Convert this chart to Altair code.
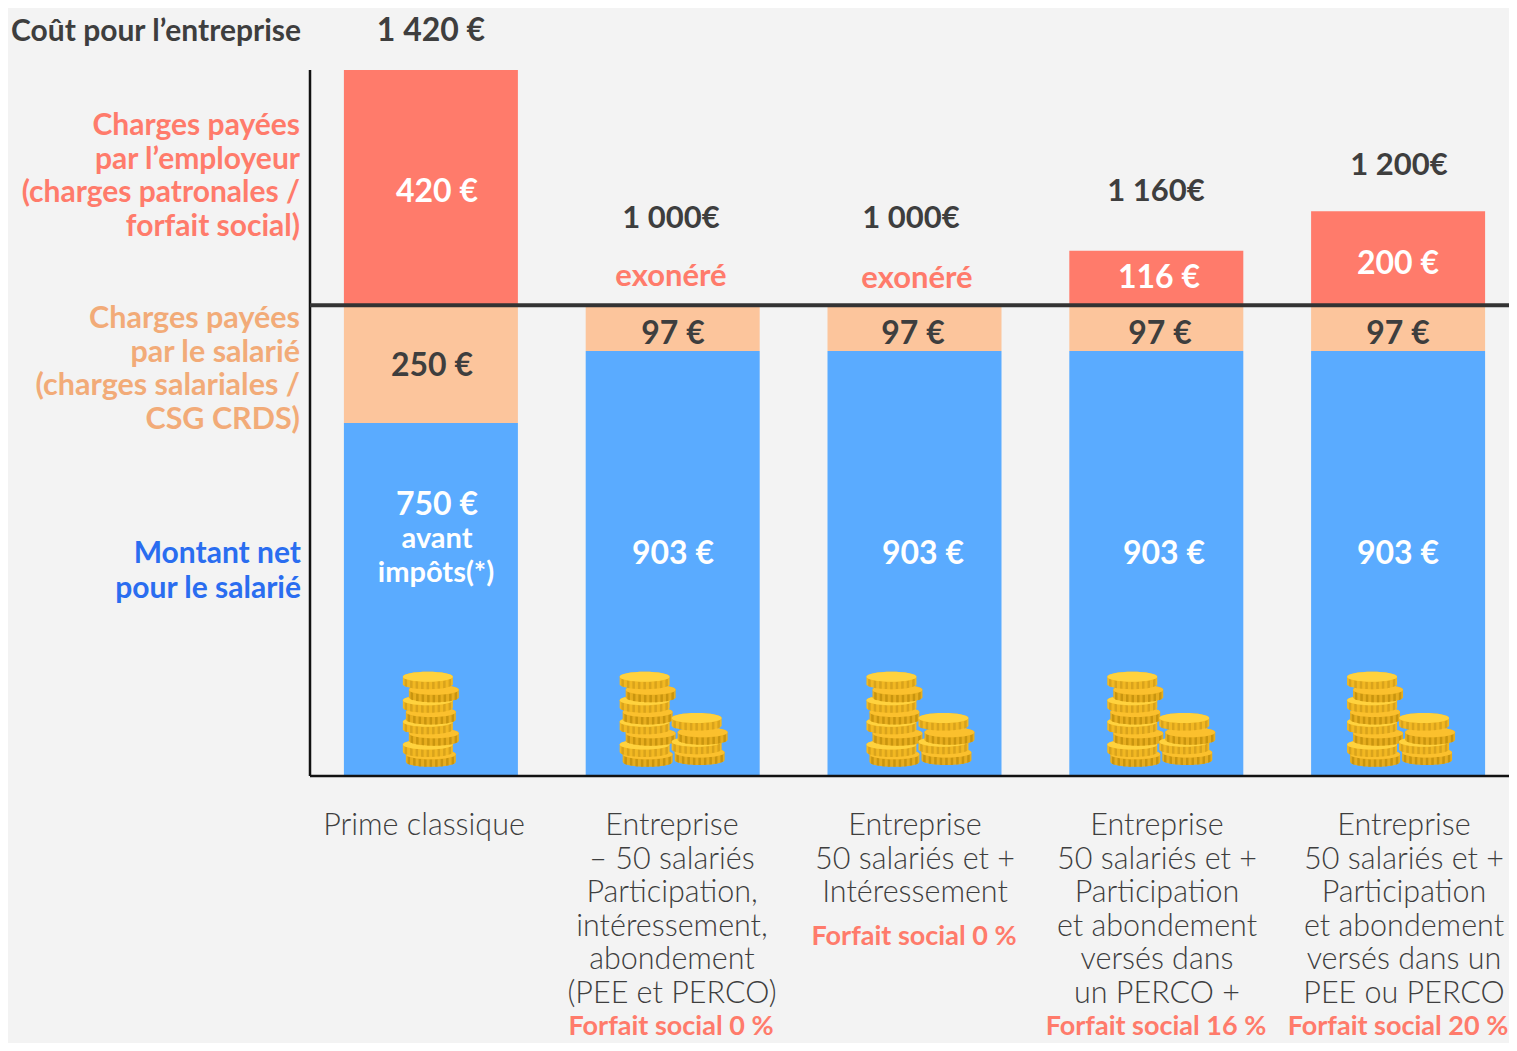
import math
import altair as alt
import pandas as pd

categories = ["Prime classique", "PME participation", "50+ intéressement", "50+ PERCO", "50+ PEE ou PERCO"]
# segment heights as drawn on the picture's vertical scale
net_values = [750, 903, 903, 903, 903]
employee_values = [250, 97, 97, 97, 97]
employer_values = [500, 0, 0, 116, 200]
segment_names = ["net", "salarie", "employeur"]
segment_colors = ["#5aabff", "#fcc59c", "#ff7b6b"]

pile_left_offsets = [-3, -28, -23, -24, -26]
tall_pile_heights = [46, 67, 91, 115, 136, 161, 183, 211]
tall_pile_shift = [3, 0, 6, 0, 3, 0, 6, 0]
short_pile_heights = [50, 73, 93, 123]
short_pile_shift = [55, 52, 58, 52]

DARK = "#3e3e3e"
SALMON = "#ff7b6b"
PEACH = "#f2ab78"
BLUE = "#2a6df0"
WHITE = "#ffffff"
FONT = "Lato"

bars_df = pd.DataFrame(
    [
        {"cat": c, "segment": s, "order": k, "value": v}
        for k, (s, vals) in enumerate(zip(segment_names, [net_values, employee_values, employer_values]))
        for c, v in zip(categories, vals)
    ]
)

x_scale = alt.Scale(domain=categories, range=[0, 1209], paddingInner=0.28, paddingOuter=0.14)
y_scale = alt.Scale(domain=[0, 1500], nice=False)

bars = (
    alt.Chart(bars_df)
    .mark_bar(size=174)
    .encode(
        x=alt.X("cat:N", scale=x_scale, sort=categories, axis=None),
        y=alt.Y("value:Q", scale=y_scale, stack="zero", axis=None),
        color=alt.Color("segment:N", scale=alt.Scale(domain=segment_names, range=segment_colors), legend=None),
        order=alt.Order("order:Q"),
    )
)

# Coin shapes: unit path scaled by sqrt(size)/2
RY, TH = 0.2, 0.3


def stripes(xs, w=0.05):
    parts = []
    for sx in xs:
        a, b = sx - w, sx + w
        ya = RY * math.sqrt(max(0, 1 - a * a))
        yb = RY * math.sqrt(max(0, 1 - b * b))
        parts.append(f"M{a:.3f},{ya:.3f}L{b:.3f},{yb:.3f}L{b:.3f},{yb + TH:.3f}L{a:.3f},{ya + TH:.3f}Z")
    return "".join(parts)


body_path = f"M-1,0L-1,{TH}A1,{RY} 0 0 0 1,{TH}L1,0A1,{RY} 0 0 0 -1,0Z"
top_path = f"M-1,0A1,{RY} 0 0 1 1,0A1,{RY} 0 0 1 -1,0Z"
stripe_path = stripes([-0.88, -0.66, -0.44, -0.22, 0, 0.22, 0.44, 0.66, 0.88])
part_names = ["body", "stripe", "top"]

coin_rows = []
for i, c in enumerate(categories):
    piles = [(tall_pile_heights, tall_pile_shift)]
    if i > 0:
        piles.append((short_pile_heights, short_pile_shift))
    for heights, shifts in piles:
        for j, (h, sh) in enumerate(zip(heights, shifts)):
            tone = "a" if sh in (0, 52) else "b"
            for p in part_names:
                coin_rows.append(
                    {"cat": c, "y": h, "off": pile_left_offsets[i] + sh, "part": p, "paint": p + tone}
                )
coins_df = pd.DataFrame(coin_rows)
coins_df["idx"] = range(len(coins_df))

paint_domain = ["bodya", "stripea", "topa", "bodyb", "stripeb", "topb"]
paint_range = ["#f2b822", "#d9a31c", "#ffd23e", "#e8ae1e", "#c9950f", "#fbc02d"]

coins = (
    alt.Chart(coins_df)
    .mark_point(filled=True, opacity=1, strokeWidth=0)
    .encode(
        x=alt.X("cat:N", scale=x_scale, sort=categories, axis=None),
        xOffset=alt.XOffset("off:Q", scale=alt.Scale(domain=[-120, 120], range=[-33, 207])),
        y=alt.Y("y:Q", scale=y_scale, axis=None),
        shape=alt.Shape(
            "part:N",
            scale=alt.Scale(domain=part_names, range=[body_path, stripe_path, top_path]),
            legend=None,
        ),
        fill=alt.Fill("paint:N", scale=alt.Scale(domain=paint_domain, range=paint_range), legend=None),
        size=alt.value(2500),
        order=alt.Order("idx:Q"),
    )
)

X0, Y0 = 310, 70
base_df = pd.DataFrame({"y": [0]})
divider_df = pd.DataFrame({"y": [1000]})

axis_v = alt.Chart(base_df).mark_rule(color="#111111", strokeWidth=2.5).encode(
    x=alt.value(0), y=alt.value(0), y2=alt.value(706))
axis_h = alt.Chart(base_df).mark_rule(color="#111111", strokeWidth=2.5).encode(
    y=alt.Y("y:Q", scale=y_scale, axis=None), x=alt.value(0), x2=alt.value(1199))
divider = alt.Chart(divider_df).mark_rule(color="#333333", strokeWidth=4).encode(
    y=alt.Y("y:Q", scale=y_scale, axis=None), x=alt.value(0), x2=alt.value(1199))


def note(text, x, y, color=DARK, size=30.5, weight="normal", align="center", lh=33.6):
    lines = text if isinstance(text, list) else [text]
    return alt.Chart(base_df).mark_text(
        text=lines if len(lines) > 1 else lines[0],
        color=color, fontSize=size, fontWeight=weight, font=FONT, align=align,
        baseline="middle", lineHeight=lh,
    ).encode(x=alt.value(x - X0), y=alt.value(y + 2 - Y0))


notes = [
    note("Coût pour l’entreprise", 301, 30, size=30, weight="bold", align="right"),
    note("1 420 €", 431, 29, size=32, weight="bold"),
    note(["Charges payées", "par l’employeur", "(charges patronales /", "forfait social)"], 300, 124, SALMON, 30, "bold", "right"),
    note(["Charges payées", "par le salarié", "(charges salariales /", "CSG CRDS)"], 300, 317, PEACH, 30.5, "bold", "right"),
    note(["Montant net", "pour le salarié"], 301, 552, BLUE, 30, "bold", "right", 35),
    note("420 €", 437, 190, WHITE, 32, "bold"),
    note("250 €", 432, 364, DARK, 32, "bold"),
    note("750 €", 437, 503, WHITE, 32, "bold"),
    note("avant", 437, 537, WHITE, 29, "bold"),
    note("impôts(*)", 436, 571, WHITE, 29, "bold"),
    note("1 000€", 671, 217, size=31, weight="bold"),
    note("1 000€", 911, 217, size=31, weight="bold"),
    note("1 160€", 1156, 190, size=31, weight="bold"),
    note("1 200€", 1399, 164, size=31, weight="bold"),
    note("exonéré", 671, 275, SALMON, 31, "bold"),
    note("exonéré", 917, 277, SALMON, 31, "bold"),
    note("116 €", 1159, 276, WHITE, 32, "bold"),
    note("200 €", 1398, 262, WHITE, 32, "bold"),
]
for x, y in [(673, 332), (913, 332), (1160, 332), (1398, 332)]:
    notes.append(note("97 €", x, y, DARK, 32, "bold"))
for x in [673, 923, 1164, 1398]:
    notes.append(note("903 €", x, 552, WHITE, 32, "bold"))

notes += [
    note("Prime classique", 424, 824, weight=300),
    note(["Entreprise", "– 50 salariés", "Participation,", "intéressement,", "abondement", "(PEE et PERCO)"], 672, 824, weight=300),
    note(["Entreprise", "50 salariés et +", "Intéressement"], 915, 824, weight=300),
    note(["Entreprise", "50 salariés et +", "Participation", "et abondement", "versés dans", "un PERCO +"], 1157, 824, weight=300),
    note(["Entreprise", "50 salariés et +", "Participation", "et abondement", "versés dans un", "PEE ou PERCO"], 1404, 824, weight=300),
]
forfait_labels = ["Forfait social 0 %", "Forfait social 0 %", "Forfait social 16 %", "Forfait social 20 %"]
for label, x, y in zip(forfait_labels, [671, 914, 1156, 1398], [1025, 935, 1025, 1025]):
    notes.append(note(label, x, y, SALMON, 27, "bold"))

chart = alt.layer(bars, coins, axis_v, axis_h, divider, *notes).properties(
    width=1199,
    height=706,
    background="#f3f3f3",
    padding={"left": 302, "top": 62, "right": 0, "bottom": 267},
    autosize=alt.AutoSizeParams(type="none"),
).configure_view(stroke=None)

chart.save("out.html", embed_options={"renderer": "svg", "actions": False})
